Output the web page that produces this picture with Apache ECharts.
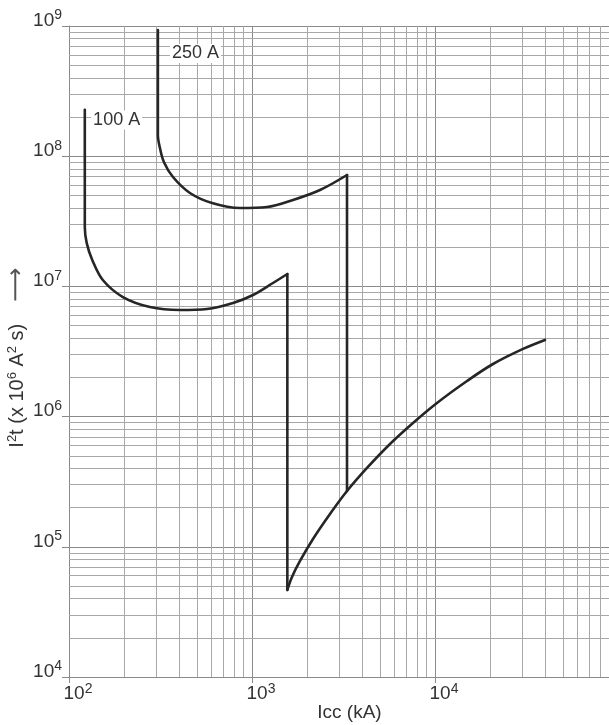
<!DOCTYPE html>
<html>
<head>
<meta charset="utf-8">
<script src="https://cdn.jsdelivr.net/npm/echarts@6/dist/echarts.min.js"></script>
<style>
html,body{margin:0;padding:0;background:#fff;}
#c{width:609px;height:725px;}
</style>
</head>
<body>
<div id="c"></div>
<script>
// ---- data ----
const icc100A = [122, 122, 125, 134, 153, 197, 277, 404, 568, 788, 1013, 1302, 1560, 1560, 1654, 1830, 2154, 2668, 3305, 4250, 5677, 7582, 10250, 14960, 20750, 30270, 39910];
const i2t100A = [2.27e8, 2.86e7, 2.15e7, 1.595e7, 1.12e7, 8.29e6, 6.95e6, 6.59e6, 6.71e6, 7.46e6, 8.59e6, 1.062e7, 1.245e7, 4.66e4, 5.86e4, 7.78e4, 1.148e5, 1.786e5, 2.68e5, 4.03e5, 6.16e5, 8.93e5, 1.272e6, 1.877e6, 2.535e6, 3.31e6, 3.88e6];
const icc250A = [306, 306, 314, 330, 370, 458, 605, 860, 1208, 1675, 2353, 3305, 3305];
const i2t250A = [9.32e8, 1.455e8, 1.156e8, 9.03e7, 6.92e7, 5.22e7, 4.37e7, 4.00e7, 4.07e7, 4.61e7, 5.50e7, 7.17e7, 2.68e5];
// indices where a curve has a sharp corner (vertical drop)
const corners100A = [12, 13];
const corners250A = [11];
const curveLabels = ['100 A', '250 A'];
const labelAnchors = [[132, 1.9e8], [356, 6.15e8]];
const xTickExps = ['2', '3', '4'];
const yTickExps = ['4', '5', '6', '7', '8', '9'];
const xDecades = [100, 1000, 10000];
const yDecades = [1e4, 1e5, 1e6, 1e7, 1e8];
const minorMultipliers = [2, 3, 4, 5, 6, 7, 8, 9];
const xName = 'Icc (kA)';

const zip = (a, b) => a.map((v, i) => [v, b[i]]);
function pieces(pts, corners) {
  const cuts = [0].concat(corners, [pts.length - 1]);
  const out = [];
  for (let i = 0; i < cuts.length - 1; i++) out.push(pts.slice(cuts[i], cuts[i + 1] + 1));
  return out;
}
const minorX = [];
xDecades.forEach(d => minorMultipliers.forEach(m => minorX.push({xAxis: d * m})));
const minorY = [];
yDecades.forEach(d => minorMultipliers.forEach(m => minorY.push({yAxis: d * m})));

const FONT = 'Liberation Sans, Arial, sans-serif';
const TXT = '#333';
const GRIDC = '#a8a8a8';
const AXC = '#8a8a8a';

const rich = {
  b: {fontSize: 19, fontFamily: FONT, color: TXT, lineHeight: 24},
  s: {fontSize: 14, fontFamily: FONT, color: TXT, lineHeight: 14, verticalAlign: 'top'}
};
function expFmt(list) {
  return function (v) {
    const e = String(Math.round(Math.log10(v)));
    return list.includes(e) ? '{b|10}{s|' + e + '}' : '';
  };
}

const curveStyle = {color: '#262626', width: 2.6, join: 'round', cap: 'round'};
function curveSeries(name, pts, corners, idx) {
  return pieces(pts, corners).map((seg, k) => {
    const s = {
      type: 'line', name: name, data: seg, z: 5, silent: true,
      showSymbol: false, symbol: 'none',
      smooth: seg.length > 2 ? 0.35 : false,
      lineStyle: curveStyle
    };
    if (k === 0) {
      s.markPoint = {
        symbol: 'circle', symbolSize: 0.1, silent: true,
        data: [{coord: labelAnchors[idx], value: name}],
        label: {show: true, position: 'right', distance: 0, formatter: name, fontSize: 18, fontFamily: FONT, color: TXT, backgroundColor: '#fff', padding: [1, 2, 0, 2]}
      };
    }
    return s;
  });
}

const chart = echarts.init(document.getElementById('c'), null, {renderer: 'canvas'});
chart.setOption({
  animation: false,
  backgroundColor: '#fff',
  textStyle: {fontFamily: FONT, color: TXT},
  grid: {left: 69, top: 26, right: -9, bottom: 48, containLabel: false, outerBoundsMode: 'none'},
  xAxis: {
    type: 'log', logBase: 10, min: 100, max: 100000,
    name: xName, nameLocation: 'middle', nameGap: 26, nameMoveOverlap: false,
    nameTextStyle: {fontSize: 19, color: TXT, fontFamily: FONT, padding: [0, 0, 0, 12]},
    axisLine: {show: true, lineStyle: {color: AXC, width: 1}},
    axisTick: {show: true, length: 6, lineStyle: {color: AXC}},
    axisLabel: {formatter: expFmt(xTickExps), rich: rich, margin: 5, padding: [0, 0, 0, 18], showMaxLabel: false},
    splitLine: {show: true, lineStyle: {color: AXC, width: 1}},
    minorTick: {show: false}, minorSplitLine: {show: false}
  },
  yAxis: {
    type: 'log', logBase: 10, min: 1e4, max: 1e9,
    name: '{n|I}{p|2}{n|t (x 10}{p|6}{n| A}{p|2}{n| s)}{g|}{a|⟶}',
    nameLocation: 'middle', nameRotate: 90, nameGap: 41, nameMoveOverlap: false,
    nameTextStyle: {
      padding: [0, 12, 0, 0],
      rich: {
        n: {fontSize: 20, fontFamily: FONT, color: TXT, lineHeight: 22},
        p: {fontSize: 13, fontFamily: FONT, color: TXT, lineHeight: 13, verticalAlign: 'top'},
        g: {width: 22},
        a: {fontSize: 24, fontFamily: 'DejaVu Sans', color: '#555', lineHeight: 22}
      }
    },
    axisLine: {show: true, lineStyle: {color: AXC, width: 1}},
    axisTick: {show: true, length: 7, lineStyle: {color: AXC}},
    axisLabel: {formatter: expFmt(yTickExps), rich: rich, margin: 7, padding: [0, 0, 11, 0]},
    splitLine: {show: true, lineStyle: {color: AXC, width: 1}}
  },
  series: [
    {
      type: 'line', data: [], silent: true, z: 1,
      markLine: {
        silent: true, symbol: ['none', 'none'], animation: false,
        label: {show: false},
        lineStyle: {type: 'solid', color: GRIDC, width: 1},
        emphasis: {disabled: true},
        data: minorX.concat(minorY)
      }
    }
  ].concat(
    curveSeries(curveLabels[0], zip(icc100A, i2t100A), corners100A, 0),
    curveSeries(curveLabels[1], zip(icc250A, i2t250A), corners250A, 1)
  )
});
</script>
</body>
</html>
